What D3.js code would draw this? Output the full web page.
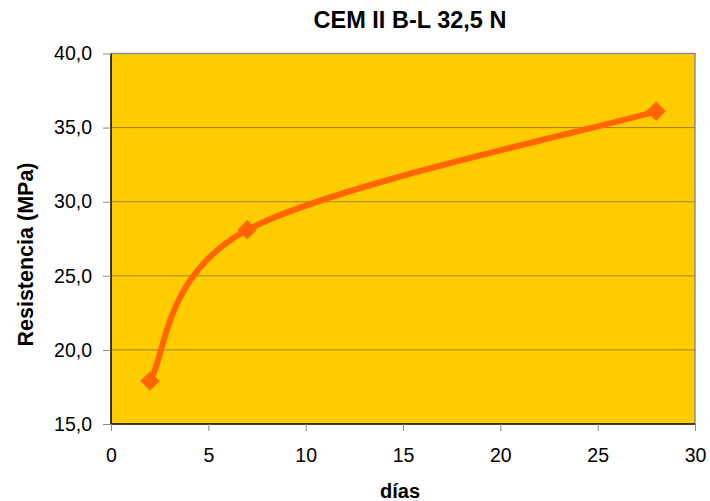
<!DOCTYPE html>
<html><head><meta charset="utf-8">
<script src="https://cdn.jsdelivr.net/npm/d3@7"></script>
<style>body{margin:0;background:#fff}svg{display:block}text{font-family:"Liberation Sans",Arial,sans-serif}</style>
</head><body><svg id="c" width="710" height="501"></svg>
<script>
const days = [2, 7, 28];
const strength = [17.9, 28.1, 36.1];
const xTicks = [0, 5, 10, 15, 20, 25, 30];
const yTicks = [15, 20, 25, 30, 35, 40];
const title = "CEM II B-L 32,5 N";
const xTitle = "días";
const yTitle = "Resistencia (MPa)";

const svg = d3.select("#c");
const L = 111, R = 695, T = 53.5, B = 424;
const x = d3.scaleLinear().domain([0, 30]).range([L, R]);
const y = d3.scaleLinear().domain([15, 40]).range([B, T]);

svg.append("rect").attr("x", L).attr("y", T).attr("width", R - L).attr("height", B - T).attr("fill", "#FFCC00");
svg.append("g").selectAll("line").data(yTicks.slice(1, -1)).join("line")
  .attr("x1", L).attr("x2", R).attr("y1", d => y(d)).attr("y2", d => y(d))
  .attr("stroke", "#9c8400").attr("stroke-width", 1);
svg.append("path").attr("d", `M${L},${T}H${R}V${B}`).attr("fill", "none").attr("stroke", "#8c8c8c").attr("stroke-width", 1.5);

const yAxis = svg.append("g").attr("transform", `translate(${L},0)`)
  .call(d3.axisLeft(y).tickValues(yTicks).tickSize(8).tickPadding(11).tickFormat(d => d3.format(".1f")(d).replace(".", ",")));
const xAxis = svg.append("g").attr("transform", `translate(0,${B})`)
  .call(d3.axisBottom(x).tickValues(xTicks).tickSize(7).tickPadding(17));
[xAxis, yAxis].forEach(a => {
  a.select(".domain").attr("stroke", "#000").attr("stroke-width", 1.5);
  a.selectAll(".tick line").attr("stroke", "#888");
  a.selectAll("text").attr("font-size", 19.5).attr("fill", "#000").attr("font-family", "Liberation Sans, Arial, sans-serif");
});
xAxis.select(".domain").attr("d", `M${L},0H${R}`);
yAxis.select(".domain").attr("d", `M0,${T}V${B}`);

// Excel-style smoothed line: cubic Bezier with Catmull-Rom tangents (1/6), end tangents toward neighbour
const pts = days.map((d, i) => [x(d), y(strength[i])]);
const path = d3.path();
path.moveTo(pts[0][0], pts[0][1]);
for (let i = 0; i < pts.length - 1; i++) {
  const p0 = pts[Math.max(0, i - 1)], p1 = pts[i], p2 = pts[i + 1], p3 = pts[Math.min(pts.length - 1, i + 2)];
  const c1 = [p1[0] + (p2[0] - p0[0]) / 6, p1[1] + (p2[1] - p0[1]) / 6];
  const c2 = [p2[0] - (p3[0] - p1[0]) / 6, p2[1] - (p3[1] - p1[1]) / 6];
  path.bezierCurveTo(c1[0], c1[1], c2[0], c2[1], p2[0], p2[1]);
}
svg.append("path").attr("d", path.toString())
  .attr("fill", "none").attr("stroke", "#FF6600").attr("stroke-width", 6).attr("stroke-linecap", "round");
svg.append("g").selectAll("path").data(pts).join("path")
  .attr("transform", d => `translate(${d[0]},${d[1]}) rotate(45)`)
  .attr("d", d3.symbol(d3.symbolSquare, 190)())
  .attr("fill", "#FF6600");

svg.append("text").attr("x", 410).attr("y", 28).attr("text-anchor", "middle").attr("font-size", 23.5).attr("font-weight", "bold").text(title);
svg.append("text").attr("x", 400).attr("y", 498).attr("text-anchor", "middle").attr("font-size", 20).attr("font-weight", "bold").text(xTitle);
svg.append("text").attr("transform", "translate(33,254.5) rotate(-90)").attr("text-anchor", "middle").attr("font-size", 21.5).attr("font-weight", "bold").text(yTitle);
</script></body></html>
